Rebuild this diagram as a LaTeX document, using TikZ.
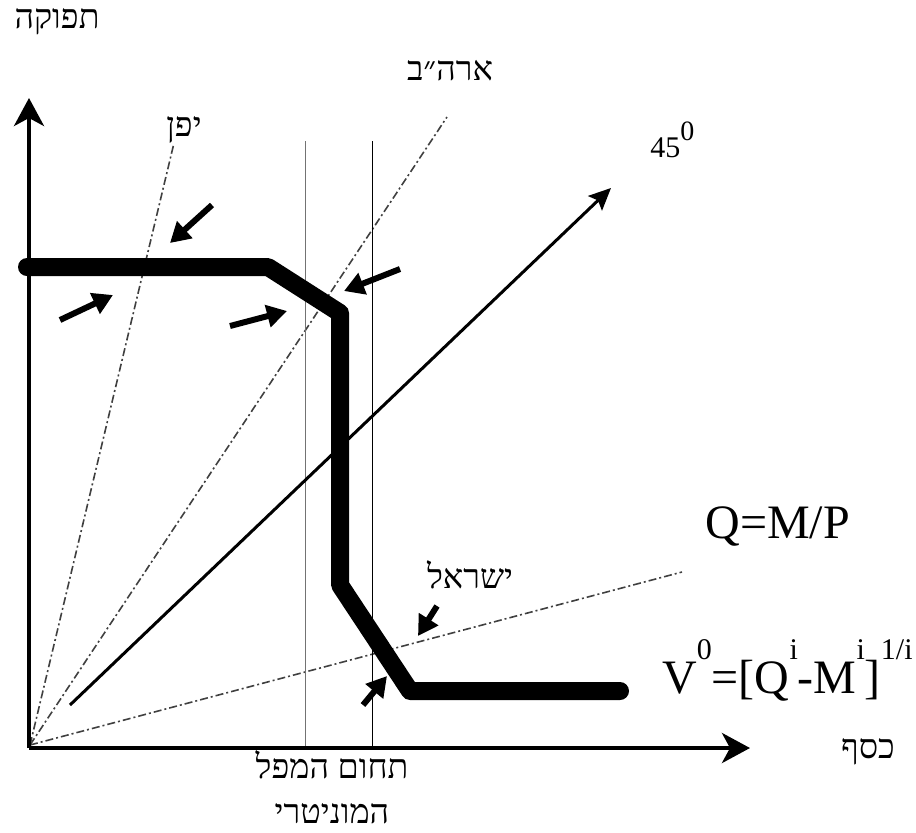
\documentclass[tikz,border=0pt]{standalone}
\usepackage{fontspec}
\setmainfont{Liberation Serif}
\newfontfamily\hebfont[Script=Hebrew]{Liberation Serif}
\TeXXeTstate=1
\usetikzlibrary{arrows.meta}
\newcommand{\heb}[1]{{\hebfont\beginR #1\endR}}
\newcommand{\hi}[1]{\raisebox{17pt}{\fontsize{15}{15}\selectfont #1}}
\tikzset{
  axis/.style={line width=2pt, -{Stealth[length=14pt, width=15pt, inset=4pt]}},
  supply/.style={line width=9pt, line cap=round, line join=round},
  diag/.style={line width=1.5pt, -{Stealth[length=11pt, width=10pt, inset=2pt]}},
  ray/.style={line width=0.8pt, draw=black!75,
    dash pattern=on 4pt off 1.5pt on 1pt off 1.5pt},
  bound/.style={line width=0.5pt},
  pointer/.style={line width=3pt, -{Triangle[length=10pt, width=11pt]}},
  heblabel/.style={font=\fontsize{17}{22.5}\selectfont, align=center, inner sep=0pt},
  formula/.style={font=\fontsize{24}{26}\selectfont, inner sep=0pt}
}
\begin{document}
\begin{tikzpicture}[x=0.5pt, y=-0.5pt]
  \useasboundingbox (0,0) rectangle (916,832);

  \coordinate (O) at (29,748);
  \coordinate (ytip) at (29,98);
  \coordinate (xtip) at (750,748);
  \coordinate (R) at (30,745);

  % rays of the countries
  \coordinate (japan) at (174,143);
  \coordinate (usa) at (447,117);
  \coordinate (israel) at (682,572);
  \draw[ray] (R) -- (japan);
  \draw[ray] (R) -- (usa);
  \draw[ray] (R) -- (israel);

  % monetary band
  \coordinate (b1top) at (305,141);
  \coordinate (b1bot) at (305,748);
  \coordinate (b2top) at (372,141);
  \coordinate (b2bot) at (372,748);
  \draw[bound, draw=black!55] (b1top) -- (b1bot);
  \draw[bound] (b2top) -- (b2bot);

  % 45 degree line
  \coordinate (d0) at (70,705);
  \coordinate (d1) at (611,188);
  \draw[diag] (d0) -- (d1);

  % production curve
  \coordinate (c0) at (27,267);
  \coordinate (c1) at (268,267);
  \coordinate (c2) at (340,313);
  \coordinate (c3) at (340,585);
  \coordinate (c4) at (410,691);
  \coordinate (c5) at (620,691);
  \draw[supply] (c0) -- (c1) -- (c2) -- (c3) -- (c4) -- (c5);

  \draw[axis] (O) -- (ytip);
  \draw[axis] (O) -- (xtip);

  % pointers to the crossings
  \foreach \tail/\tip in {{212,205}/{170,243}, {60,320}/{113,295},
      {230,326}/{287,311}, {400,269}/{344,291},
      {437,606}/{418,636}, {363,705}/{387,676}}
    \draw[pointer] (\tail) -- (\tip);

  \node[heblabel] (output) at (57,22) {\heb{תפוקה}};
  \node[heblabel] (usalbl) at (450,71) {\heb{ארה״ב}};
  \node[heblabel] (japanlbl) at (184,130) {\heb{יפן}};
  \node[heblabel] (israellbl) at (470,575) {\heb{ישראל}};
  \node[heblabel] (money) at (868,752) {\heb{כסף}};
  \node[heblabel] (band) at (332,787) {\heb{תחום המפל}\\\heb{המוניטרי}};

  \node[font=\fontsize{15}{16}\selectfont, inner sep=0pt, anchor=base west] (deg)
    at (650,157) {45\raisebox{8.5pt}{\fontsize{14}{14}\selectfont 0}};
  \node[formula, anchor=base west] (qmp) at (705,538) {Q=M/P};
  \node[formula, anchor=base east] (vzero) at (913,693)
    {V\hi{0}=[Q\hi{i}-M\hi{i}]\hi{1/i}};
\end{tikzpicture}
\end{document}
